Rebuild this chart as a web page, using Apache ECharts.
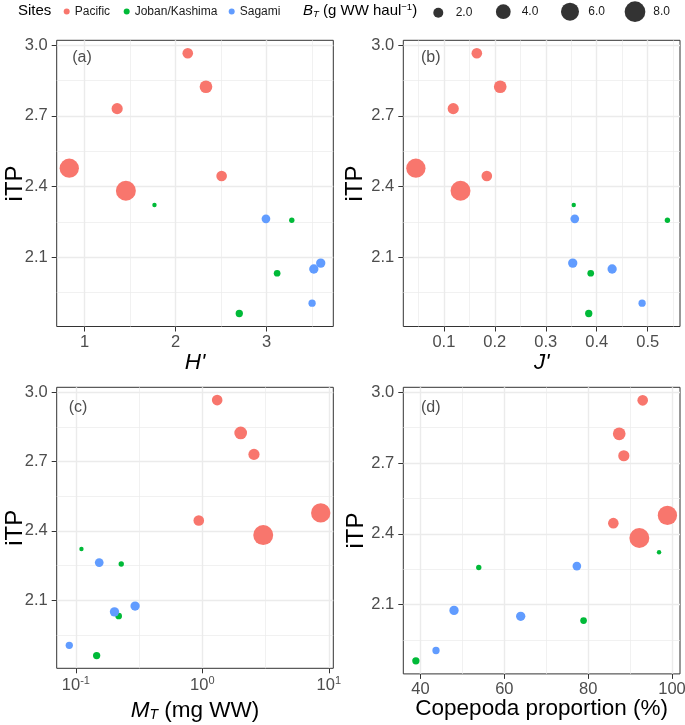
<!DOCTYPE html>
<html><head><meta charset="utf-8">
<script src="https://cdn.jsdelivr.net/npm/echarts@6/dist/echarts.min.js"></script>
<style>html,body{margin:0;padding:0;background:#fff}#c{width:685px;height:725px}</style>
</head><body><div id="c"></div>
<script>
// ---------------- data ----------------
const siteNames = ['Pacific', 'Joban/Kashima', 'Sagami'];
const pointSite = ['Pacific','Pacific','Pacific','Pacific','Pacific','Pacific',
  'Joban/Kashima','Joban/Kashima','Joban/Kashima','Joban/Kashima',
  'Sagami','Sagami','Sagami','Sagami'];
const iTP        = [2.966, 2.824, 2.731, 2.478, 2.382, 2.445, 2.322, 2.257, 2.032, 1.861, 2.263, 2.075, 2.050, 1.905];
const shannonH   = [2.134, 2.334, 1.358, 0.832, 1.454, 2.506, 1.768, 3.277, 3.116, 2.700, 2.993, 3.595, 3.519, 3.500];
const evennessJ  = [0.1647, 0.2106, 0.1184, 0.0451, 0.1327, 0.1843, 0.3549, 0.5387, 0.3882, 0.3843, 0.3569, 0.3529, 0.4302, 0.4890];
const massMT     = [1.31, 2.01, 2.56, 8.63, 3.03, 0.937, 0.1107, 0.2285, 0.218, 0.146, 0.153, 0.294, 0.202, 0.0887];
const copepodaPct= [93.0, 87.4, 88.5, 98.9, 92.2, 86.0, 96.9, 53.9, 78.9, 38.9, 77.3, 48.0, 63.9, 43.7];
const biomassBT  = [2.2, 3.0, 2.4, 6.9, 7.4, 2.2, 1.02, 1.08, 1.24, 1.34, 1.64, 1.8, 1.8, 1.34];
const sizeLegendValues = [2.0, 4.0, 6.0, 8.0];
const ticksITP = [2.1, 2.4, 2.7, 3.0];
const ticksH   = [1, 2, 3];
const ticksJ   = [0.1, 0.2, 0.3, 0.4, 0.5];
const ticksMT  = [0.1, 1, 10];
const ticksCop = [40, 60, 80, 100];

// ---------------- styling ----------------
const siteColors = {'Pacific': '#F8766D', 'Joban/Kashima': '#00BA38', 'Sagami': '#619CFF'};
const FONT = 'Liberation Sans, Arial, sans-serif';
const TICK_FS = 16.5;
function sizeOf(b) { return 3.5 + 6.5 * Math.sqrt(Math.max(b - 1, 0)); }
function expand(arr, log) {
  const v = log ? arr.map(Math.log10) : arr;
  const lo = Math.min(...v), hi = Math.max(...v), r = hi - lo;
  const out = [lo - 0.05 * r, hi + 0.05 * r];
  return log ? out.map(x => Math.pow(10, x)) : out;
}
function minorOf(ticks, lim, log) {
  const t = log ? ticks.map(Math.log10) : ticks;
  const step = t[1] - t[0];
  const all = [t[0] - step].concat(t, [t[t.length - 1] + step]);
  const res = [];
  for (let i = 0; i < all.length - 1; i++) {
    const m = (all[i] + all[i + 1]) / 2;
    const mv = log ? Math.pow(10, m) : m;
    if (mv > lim[0] && mv < lim[1]) res.push(+mv.toFixed(6));
  }
  return res;
}

const panels = [
  {x: shannonH, ticks: ticksH, log: false, name: "H'", grid: {left: 56.7, top: 40.3, width: 276.6, height: 286.2}, yGap: 29.7, xGap: 24.5, tag: '(a)', tagPos: [82, 57.7], italic: true, fmt: v => String(v)},
  {x: evennessJ, ticks: ticksJ, log: false, name: "J'", grid: {left: 403.3, top: 40.3, width: 276.7, height: 286.2}, yGap: 36.3, xGap: 24.5, tag: '(b)', tagPos: [430.7, 58], italic: true, fmt: v => v.toFixed(1)},
  {x: massMT, ticks: ticksMT, log: true, name: '{i|M}{sub|T}{n| (mg WW)}', grid: {left: 56.7, top: 387.3, width: 276.6, height: 281}, yGap: 29.7, xGap: 30, tag: '(c)', tagPos: [78, 407.3], italic: false, fmt: v => '{n|10}{sup|' + Math.round(Math.log10(v)) + '}'},
  {x: copepodaPct, ticks: ticksCop, log: false, name: 'Copepoda proportion (%)', grid: {left: 403.3, top: 387.3, width: 276.7, height: 286.6}, yGap: 34.7, xGap: 23, tag: '(d)', tagPos: [430.7, 407.3], italic: false, fmt: v => String(v)}
];

const yLim = expand(iTP, false);
const grids = [], xAxes = [], yAxes = [], series = [], graphics = [];
const majorLine = {show: true, lineStyle: {color: '#EBEBEB', width: 1.4}};
const minorLine = {show: true, lineStyle: {color: '#EBEBEB', width: 0.7}};
const labelStyle = {color: '#4D4D4D', fontSize: TICK_FS, fontFamily: FONT};

panels.forEach((p, i) => {
  grids.push(Object.assign({show: true, borderColor: '#333333', borderWidth: 1, backgroundColor: '#fff', containLabel: false, outerBoundsMode: 'none'}, p.grid));
  const xLim = expand(p.x, p.log);
  const type = p.log ? 'log' : 'value';
  xAxes.push({
    gridIndex: i, type: type, min: xLim[0], max: xLim[1], position: 'bottom',
    axisLine: {show: false},
    axisTick: {show: true, length: 5, lineStyle: {color: '#333333', width: 1}, customValues: p.ticks},
    axisLabel: Object.assign({customValues: p.ticks, margin: 7, formatter: p.fmt,
      rich: {n: {fontSize: TICK_FS, color: '#4D4D4D', fontFamily: FONT}, sup: {fontSize: 11, color: '#4D4D4D', fontFamily: FONT, padding: [0, 0, 9, 0]}}}, labelStyle),
    splitLine: majorLine, minorSplitLine: {show: false},
    name: p.name, nameLocation: 'middle', nameGap: p.xGap, nameMoveOverlap: false,
    nameTextStyle: {color: '#000', fontSize: 22.5, fontFamily: FONT, fontStyle: p.italic ? 'italic' : 'normal',
      rich: {i: {fontSize: 22.5, fontStyle: 'italic', fontFamily: FONT, color: '#000'},
             sub: {fontSize: 14, fontStyle: 'italic', fontFamily: FONT, color: '#000', padding: [10, 0, 0, 0]},
             n: {fontSize: 22.5, fontFamily: FONT, color: '#000'}}}
  });
  xAxes.push({
    gridIndex: i, type: type, min: xLim[0], max: xLim[1], position: 'top',
    axisLine: {show: false}, axisTick: {show: false, customValues: minorOf(p.ticks, xLim, p.log)},
    axisLabel: {show: false}, splitLine: minorLine
  });
  yAxes.push({
    gridIndex: i, type: 'value', min: yLim[0], max: yLim[1], position: 'left',
    axisLine: {show: false},
    axisTick: {show: true, length: 5, lineStyle: {color: '#333333', width: 1}, customValues: ticksITP},
    axisLabel: Object.assign({customValues: ticksITP, margin: 9, formatter: v => v.toFixed(1)}, labelStyle),
    splitLine: majorLine,
    name: 'iTP', nameLocation: 'middle', nameGap: p.yGap, nameMoveOverlap: false,
    nameTextStyle: {color: '#000', fontSize: 24, fontFamily: FONT}
  });
  yAxes.push({
    gridIndex: i, type: 'value', min: yLim[0], max: yLim[1], position: 'right',
    axisLine: {show: false}, axisTick: {show: false, customValues: minorOf(ticksITP, yLim, false)},
    axisLabel: {show: false}, splitLine: minorLine
  });
  siteNames.forEach(s => {
    const data = [];
    p.x.forEach((xv, k) => { if (pointSite[k] === s) data.push([xv, iTP[k], biomassBT[k]]); });
    series.push({
      type: 'scatter', name: s, xAxisIndex: 2 * i, yAxisIndex: 2 * i, data: data,
      symbol: 'circle', symbolSize: v => sizeOf(v[2]),
      itemStyle: {color: siteColors[s], opacity: 1}, emphasis: {disabled: true}, z: 5
    });
  });
  graphics.push({type: 'text', x: p.tagPos[0], y: p.tagPos[1], z: 10,
    style: {text: p.tag, fill: '#4D4D4D', font: '16px ' + FONT, textAlign: 'center', textVerticalAlign: 'middle'}});
});

// dummy series for size legend
sizeLegendValues.forEach(v => {
  series.push({type: 'scatter', name: v.toFixed(1), xAxisIndex: 0, yAxisIndex: 0, data: [], itemStyle: {color: '#000'}});
});

// legends
const legends = [];
const siteLegendCenters = [66.7, 126.7, 231.7];
siteNames.forEach((s, k) => {
  legends.push({data: [s], left: siteLegendCenters[k] - 3, top: 5.5, padding: 0, itemWidth: 6, itemHeight: 6, icon: 'circle',
    selectedMode: false, textStyle: {fontSize: 12, color: '#1A1A1A', fontFamily: FONT}});
});
const sizeLegendPos = [{c: 438.3, t: 455.7}, {c: 503.3, t: 521.7}, {c: 570, t: 588.3}, {c: 635, t: 653.3}];
sizeLegendValues.forEach((v, k) => {
  const d = sizeOf(v);
  const pad = sizeLegendPos[k].t - (sizeLegendPos[k].c + d / 2) - 5;
  legends.push({data: [v.toFixed(1)], left: sizeLegendPos[k].c - d / 2, top: 11.7 - d / 2, padding: 0, itemWidth: d, itemHeight: d, icon: 'circle',
    selectedMode: false, formatter: name => '{p|' + name + '}',
    textStyle: {fontSize: 12, color: '#1A1A1A', fontFamily: FONT,
      rich: {p: {fontSize: 12, color: '#1A1A1A', fontFamily: FONT, padding: [0, 0, 0, pad]}}}});
});

graphics.push({type: 'text', left: 18, top: 3, style: {text: 'Sites', fill: '#000', font: '15px ' + FONT}});
graphics.push({type: 'text', left: 303, top: 2, style: {
  text: '{i|B}{sub|T}{n| (g WW haul}{sup|\u22121}{n|)}', fill: '#000', font: '15px ' + FONT,
  rich: {i: {fontSize: 15, fontStyle: 'italic', fontFamily: FONT, fill: '#000'},
         sub: {fontSize: 9.5, fontStyle: 'italic', fontFamily: FONT, fill: '#000', padding: [7, 0, 0, 0]},
         n: {fontSize: 15, fontFamily: FONT, fill: '#000'},
         sup: {fontSize: 9.5, fontFamily: FONT, fill: '#000', padding: [0, 0, 7, 0]}}}});

const chart = echarts.init(document.getElementById('c'), null, {renderer: 'canvas'});
chart.setOption({
  animation: false, backgroundColor: '#fff',
  grid: grids, xAxis: xAxes, yAxis: yAxes, series: series, legend: legends, graphic: graphics
});
</script></body></html>
